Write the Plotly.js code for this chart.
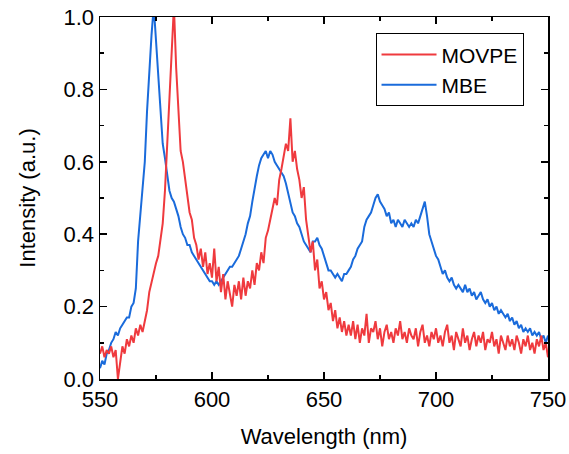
<!DOCTYPE html>
<html>
<head>
<meta charset="utf-8">
<script src="https://cdn.plot.ly/plotly-3.0.1.min.js"></script>
<style>html,body{margin:0;padding:0;background:#fff;}#chart{width:569px;height:454px;}</style>
</head>
<body>
<div id="chart"></div>
<script>
// Wavelength start / step (nm)
const wlStart = 550;
const wlStep = 1;

// MBE intensity (a.u.), 550..750 nm
const mbe = [
0.03,0.05,0.04,0.07,0.08,0.10,0.11,0.13,0.12,0.14,
0.15,0.16,0.17,0.17,0.20,0.21,0.25,0.38,0.46,0.52,
0.60,0.74,0.86,0.95,1.03,0.93,0.82,0.72,0.65,0.61,
0.56,0.52,0.50,0.49,0.47,0.45,0.42,0.40,0.39,0.37,
0.37,0.35,0.34,0.33,0.32,0.31,0.30,0.29,0.28,0.27,
0.27,0.26,0.27,0.26,0.27,0.28,0.29,0.30,0.31,0.31,
0.32,0.33,0.34,0.36,0.38,0.40,0.43,0.45,0.49,0.53,
0.56,0.59,0.61,0.62,0.63,0.61,0.63,0.62,0.60,0.59,
0.58,0.57,0.56,0.54,0.51,0.49,0.46,0.45,0.43,0.42,
0.40,0.38,0.37,0.36,0.35,0.38,0.38,0.39,0.37,0.36,
0.34,0.32,0.30,0.30,0.29,0.28,0.29,0.28,0.27,0.29,
0.29,0.30,0.31,0.33,0.34,0.36,0.37,0.38,0.42,0.44,
0.45,0.46,0.48,0.50,0.51,0.49,0.48,0.47,0.45,0.46,
0.43,0.44,0.42,0.44,0.43,0.42,0.44,0.43,0.42,0.43,
0.42,0.44,0.43,0.45,0.47,0.49,0.45,0.40,0.38,0.36,
0.34,0.33,0.31,0.29,0.30,0.28,0.27,0.28,0.26,0.25,
0.26,0.25,0.24,0.26,0.24,0.25,0.23,0.24,0.22,0.23,
0.24,0.22,0.21,0.22,0.20,0.21,0.19,0.20,0.18,0.19,
0.18,0.17,0.18,0.16,0.17,0.15,0.16,0.14,0.15,0.13,
0.14,0.13,0.14,0.12,0.13,0.12,0.13,0.11,0.12,0.10,
0.12
];

// MOVPE intensity (a.u.), 550..750 nm
const movpe = [
0.07,0.09,0.06,0.08,0.07,0.09,0.06,0.08,0.00,0.05,
0.09,0.07,0.11,0.09,0.12,0.10,0.14,0.12,0.15,0.13,
0.16,0.19,0.24,0.27,0.29,0.32,0.34,0.39,0.43,0.52,
0.64,0.79,0.87,1.03,0.86,0.74,0.63,0.60,0.55,0.50,
0.46,0.44,0.39,0.37,0.33,0.36,0.31,0.35,0.29,0.32,
0.28,0.36,0.27,0.31,0.24,0.29,0.22,0.27,0.23,0.20,
0.26,0.23,0.27,0.22,0.28,0.23,0.27,0.25,0.30,0.26,
0.32,0.30,0.35,0.32,0.39,0.41,0.44,0.47,0.50,0.48,
0.55,0.58,0.62,0.65,0.63,0.72,0.60,0.63,0.58,0.55,
0.50,0.53,0.44,0.40,0.35,0.38,0.30,0.33,0.25,0.27,
0.22,0.24,0.19,0.21,0.16,0.19,0.14,0.17,0.13,0.16,
0.12,0.15,0.12,0.16,0.11,0.15,0.10,0.14,0.12,0.18,
0.10,0.14,0.13,0.16,0.11,0.14,0.09,0.13,0.15,0.11,
0.13,0.10,0.14,0.12,0.16,0.11,0.13,0.10,0.14,0.12,
0.11,0.14,0.09,0.13,0.15,0.10,0.12,0.09,0.13,0.11,
0.14,0.10,0.12,0.09,0.13,0.15,0.10,0.12,0.08,0.13,
0.11,0.09,0.14,0.10,0.12,0.08,0.11,0.13,0.09,0.12,
0.10,0.13,0.08,0.11,0.10,0.13,0.09,0.11,0.07,0.12,
0.10,0.08,0.12,0.09,0.11,0.08,0.12,0.10,0.07,0.11,
0.09,0.12,0.08,0.10,0.07,0.11,0.09,0.12,0.08,0.10,
0.06
];

const seriesNames = ["MOVPE", "MBE"];
const xTitle = "Wavelength (nm)";
const yTitle = "Intensity (a.u.)";

const wl = mbe.map((_, i) => wlStart + i * wlStep);

const font = {family: "Liberation Sans, Arial, sans-serif", size: 22, color: "#000"};

const traces = [
  {x: wl, y: mbe, type: "scatter", mode: "lines", name: seriesNames[1],
   line: {color: "#1a6bdb", width: 2}},
  {x: wl, y: movpe, type: "scatter", mode: "lines", name: seriesNames[0],
   line: {color: "#ef3a3e", width: 2}}
];

const axisCommon = {
  showline: true, linecolor: "#000", linewidth: 1.5, mirror: "allticks",
  ticks: "inside", ticklen: 7, tickwidth: 1.5, tickcolor: "#000",
  showgrid: false, zeroline: false, tickfont: font
};

const layout = {
  width: 569, height: 454,
  margin: {l: 100, r: 21, t: 17, b: 75},
  paper_bgcolor: "#fff", plot_bgcolor: "#fff",
  font: font,
  showlegend: true,
  legend: {x: 0.615, y: 0.955, xanchor: "left", yanchor: "top",
    bordercolor: "#000", borderwidth: 1, bgcolor: "#fff",
    traceorder: "reversed", font: {family: font.family, size: 21, color: "#000"},
    tracegroupgap: 0, itemwidth: 55},
  xaxis: Object.assign({}, axisCommon, {
    range: [550, 750], dtick: 50, tick0: 550,
    minor: {dtick: 25, ticks: "inside", ticklen: 4, tickwidth: 1.5, tickcolor: "#000"},
    title: {text: xTitle, font: font, standoff: 17}
  }),
  yaxis: Object.assign({}, axisCommon, {
    range: [0, 1], dtick: 0.2, tick0: 0, tickformat: ".1f",
    minor: {dtick: 0.1, ticks: "inside", ticklen: 4, tickwidth: 1.5, tickcolor: "#000"},
    title: {text: yTitle, font: font, standoff: 22}
  })
};

Plotly.newPlot("chart", traces, layout, {displayModeBar: false, staticPlot: true});
</script>
</body>
</html>
